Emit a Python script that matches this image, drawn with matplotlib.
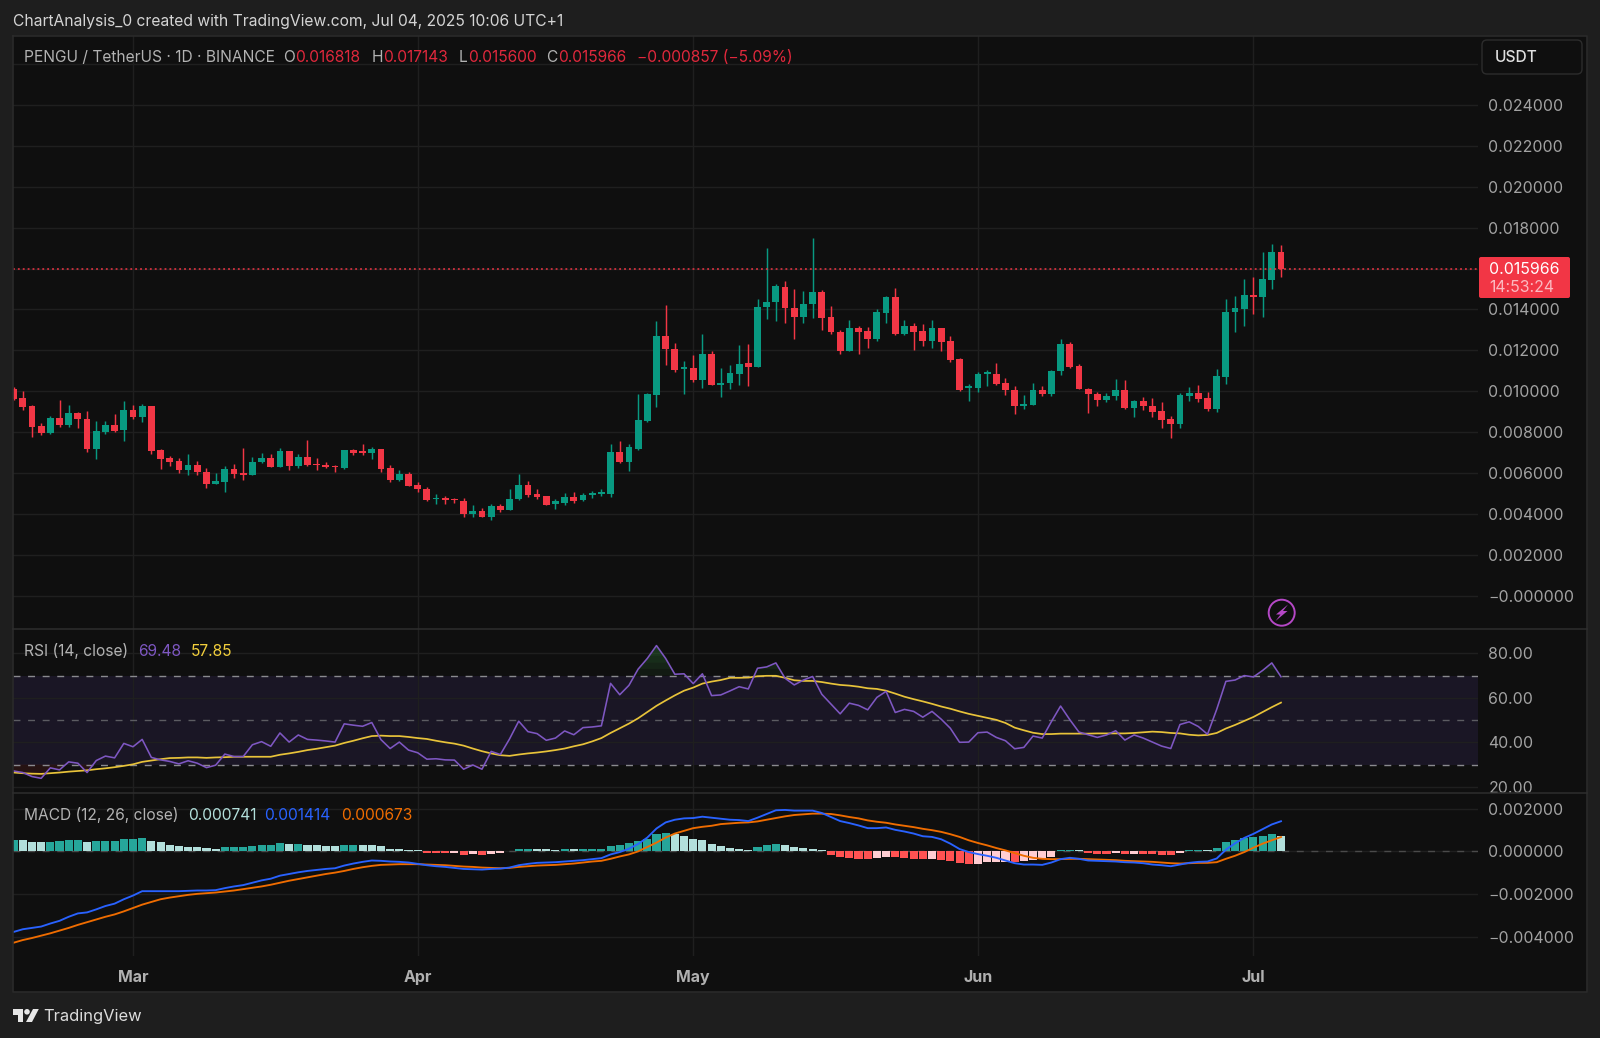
import numpy as np
import pandas as pd
import matplotlib
matplotlib.use("Agg")
import matplotlib.pyplot as plt
import matplotlib.dates as mdates
from matplotlib.patches import Circle, FancyBboxPatch, Polygon, Rectangle

plt.rcParams['font.family'] = ['Inter', 'DejaVu Sans']

# candles, in millionths of USDT
open_u = [10110,9690,9280,8290,7950,8700,8360,8940,8660,7200,8010,8340,8110,9090,8730,9270,7130,6760,6580,6170,
          6390,6080,5490,5590,6210,6010,5920,6530,6730,6320,7070,6350,6780,6450,6400,6370,6260,7130,7090,6990,
          7170,6270,5650,5960,5410,5250,4750,4790,4750,4660,4010,4160,3850,4420,4190,4730,5410,4990,4880,4490,
          4550,4840,4670,4960,4970,4970,7060,6570,7200,8550,9810,12720,12080,11110,11120,10550,11820,10330,10390,10860,
          11400,11210,14100,14350,15110,14090,13650,14250,14830,13610,12910,11990,13110,12950,12560,13830,14610,12800,13190,12950,
          12460,13080,12440,11600,10150,10150,10860,10860,10410,10080,9270,9330,10080,9870,10990,12330,11250,10130,9890,9560,
          9770,10050,9200,9550,9300,9030,8650,8420,9790,9940,9660,9140,10700,13870,14020,14720,14610,15450,16818]
high_u = [10230,10030,9330,8440,8780,9580,9330,8970,9020,8550,8530,8890,9510,9320,9400,9280,7180,6840,6730,6960,
          6600,6270,6000,6340,6440,7220,6810,6970,6920,7220,7090,6940,7620,6730,6570,6390,7140,7170,7430,7300,
          7170,6400,6160,6080,5590,5330,4970,4880,4800,4780,4440,4320,4520,4520,5250,5950,5640,5250,4910,4760,
          5040,5070,5010,5120,5230,7420,7550,7450,9860,9940,13420,14200,12340,11480,11770,12780,11970,11120,11290,12250,
          12330,14510,17010,15220,15370,14980,14900,17500,14960,14150,13010,13470,13210,13140,14040,14670,15060,13470,13350,13270,
          13500,13110,12720,11630,10340,10930,11030,11400,10640,10280,9810,10430,10250,11030,12540,12390,11350,10150,9950,9940,
          10600,10540,9560,9730,9690,9480,8810,9940,10210,10290,9990,11090,14530,14640,15500,15600,16820,17180,17143]
low_u = [9580,9090,7790,7870,7930,8270,8240,8210,7020,6710,7900,8010,7590,8670,8500,6960,6220,6350,6000,5910,
         5910,5280,5480,5080,5770,5690,5900,6520,6310,6310,6140,6260,6370,6160,6270,6060,6190,6890,6890,6710,
         6080,5590,5640,5380,5100,4650,4490,4490,4550,3870,3870,3840,3710,4100,4180,4710,4840,4730,4440,4240,
         4440,4550,4650,4800,4910,4840,6520,6100,7150,8490,9240,11270,10950,9890,10460,10160,10290,9730,10100,10310,
         10260,11190,13530,13420,13340,12540,13340,13600,12980,12780,11840,11970,11840,12120,12460,13320,12730,12770,12000,12230,
         12120,11970,11430,10020,9530,9990,10250,10290,9820,8880,9140,9320,9770,9770,10800,11160,10100,8940,9300,9480,
         9560,9140,8750,9110,8750,8230,7720,8230,9530,9480,9060,8990,10360,12900,13190,13790,13630,14980,15600]
close_u = [9610,9250,8240,7950,8680,8360,8940,8630,7200,8060,8340,8060,9090,8730,9270,7100,6710,6570,6170,6390,
           6050,5490,5610,6190,5980,5920,6550,6730,6320,7070,6350,6780,6390,6390,6310,6310,7130,7010,7010,7170,
           6220,5660,5960,5380,5220,4710,4810,4700,4680,4010,4160,3850,4420,4190,4760,5410,4930,4840,4450,4620,
           4840,4650,4960,5020,5060,7060,6550,7280,8620,9860,12720,12050,11060,11170,10540,11820,10330,10430,10910,11350,
           11190,14120,14380,15130,14070,13630,14280,14830,13580,12910,11970,13110,12910,12570,13870,14620,12780,13210,12910,12460,
           13080,12410,11530,10080,10250,10830,10950,10360,10050,9270,9380,10080,9890,11010,12330,11210,10120,9870,9560,9790,
           10050,9170,9530,9290,8990,8620,8420,9840,9940,9630,9140,10770,13890,14070,14720,14590,15490,16820,15966]

rsi = [27.1,26.4,24.6,23.8,28.5,27.6,31.2,30.6,26.4,31.8,33.8,33.0,39.5,38.0,41.3,33.2,32.1,31.4,30.3,31.7,
       30.6,28.6,29.7,34.7,33.6,33.6,38.9,40.3,38.2,44.2,40.1,43.3,41.3,41.0,40.6,40.1,48.3,47.7,47.2,48.9,
       41.2,37.2,40.1,36.5,35.3,32.4,32.6,32.1,32.0,27.9,29.8,27.9,35.9,34.5,41.5,49.5,44.8,43.9,40.9,41.9,
       45.1,43.4,46.6,46.9,47.4,66.5,61.4,65.6,72.9,77.7,83.5,77.7,70.6,70.8,66.4,70.8,61.0,61.3,63.1,65.0,
       64.0,73.3,73.9,75.7,68.8,65.8,68.0,69.6,61.6,57.2,52.8,57.6,56.6,54.6,60.2,62.9,53.4,54.8,53.9,51.3,
       53.9,50.4,46.3,40.0,40.1,44.3,44.6,42.2,40.7,37.1,37.7,42.8,41.9,49.3,56.3,50.2,44.6,43.4,42.2,43.3,
       45.2,41.0,43.3,41.9,40.1,38.3,37.2,48.0,49.2,47.1,43.6,54.8,67.4,68.0,70.0,69.4,72.3,75.7,69.48]
rsi_ma = [26.4,26.1,25.9,25.8,26.1,26.4,26.8,27.1,27.4,27.9,28.3,28.8,29.4,30.1,31.2,31.8,32.4,32.9,33.0,33.2,
          33.2,33.0,33.2,33.3,33.5,33.5,33.5,33.5,33.5,34.4,35.0,35.7,36.5,37.1,37.8,38.5,39.7,40.7,41.8,42.8,
          43.0,42.8,42.8,42.4,41.9,41.5,40.7,40.0,39.4,38.5,37.2,36.0,35.0,34.2,33.9,34.5,35.0,35.4,35.9,36.5,
          37.2,38.2,39.1,40.4,41.9,44.2,46.3,48.4,50.8,53.6,56.4,58.8,61.1,63.2,64.6,66.4,67.3,68.0,69.0,69.0,
          69.1,69.7,69.9,69.9,69.0,67.9,67.6,67.6,67.1,66.4,65.8,65.5,65.0,64.3,64.0,63.2,61.9,60.5,59.4,58.4,
          57.3,56.1,55.1,53.9,52.8,51.9,51.0,50.1,48.7,46.6,45.4,44.3,43.7,43.7,43.9,43.9,43.9,43.9,44.0,44.0,
          44.0,44.0,44.2,44.5,44.8,44.6,44.2,44.0,43.4,43.1,43.3,44.2,46.2,47.8,49.6,51.4,53.6,55.8,57.85]

# MACD values, millionths of USDT
macd_u = [-3776,-3650,-3587,-3524,-3381,-3255,-3065,-2907,-2860,-2718,-2560,-2449,-2244,-2070,-1865,-1865,-1865,-1865,-1865,-1849,
          -1833,-1833,-1817,-1722,-1643,-1580,-1470,-1359,-1280,-1138,-1059,-980,-916,-869,-822,-790,-664,-569,-490,-427,
          -442,-474,-490,-521,-585,-648,-695,-727,-774,-822,-837,-853,-822,-806,-758,-648,-585,-537,-521,-506,
          -474,-442,-411,-363,-316,-142,-32,126,348,648,1074,1359,1485,1548,1564,1627,1580,1532,1485,1469,
          1422,1580,1754,1928,1944,1912,1912,1912,1801,1612,1422,1327,1217,1090,1090,1122,1011,932,837,711,
          679,569,363,111,-32,-126,-205,-300,-427,-553,-616,-616,-632,-521,-363,-300,-348,-427,-442,-458,
          -474,-506,-521,-553,-616,-648,-695,-616,-537,-490,-474,-332,79,379,632,822,1043,1264,1414]
signal_u = [-4282,-4156,-4061,-3950,-3840,-3713,-3587,-3445,-3318,-3192,-3065,-2955,-2812,-2654,-2496,-2370,-2244,-2165,-2101,-2038,
            -1991,-1959,-1928,-1880,-1833,-1770,-1706,-1643,-1564,-1470,-1375,-1296,-1217,-1138,-1059,-995,-916,-822,-742,-679,
            -632,-616,-600,-600,-600,-616,-632,-648,-679,-711,-727,-758,-774,-790,-774,-727,-695,-664,-648,-632,
            -600,-569,-521,-474,-442,-348,-237,-142,0,205,411,648,837,964,1090,1153,1201,1280,1311,1343,
            1359,1406,1485,1564,1643,1706,1738,1770,1770,1754,1690,1612,1548,1453,1390,1343,1264,1201,1138,1059,
            995,916,806,679,521,395,284,158,47,-79,-205,-300,-348,-363,-363,-348,-348,-363,-379,-395,
            -411,-442,-458,-474,-490,-521,-553,-569,-553,-537,-537,-506,-348,-205,-32,174,363,521,673]
hist_u = [537,530,458,427,458,474,537,540,458,465,490,495,585,600,616,506,427,316,253,221,
          205,158,126,190,195,221,253,300,305,379,332,340,300,295,269,253,300,316,284,280,
          237,126,95,63,47,-63,-70,-95,-90,-150,-145,-158,-111,-79,32,95,111,95,90,88,
          111,95,111,112,115,269,300,379,506,585,822,869,806,711,569,521,332,237,158,126,
          79,221,284,332,284,190,142,111,47,-174,-284,-316,-363,-379,-332,-269,-284,-316,-363,-379,
          -348,-395,-458,-537,-600,-569,-506,-500,-490,-495,-458,-411,-332,-253,47,50,45,-95,-126,-128,
          -95,-126,-111,-126,-128,-158,-174,-95,47,63,47,158,427,553,632,679,743,822,741]

price_ticks = np.arange(0, 0.0261, 0.002)
last_price = 0.015966

BG = '#0f0f0f'
FRAME = '#1e1e1e'
GRID = '#1f1f1f'
UP = '#089981'
DOWN = '#f23645'
AXIS_TXT = '#a3a3a3'

W, H = 1600, 1038
scale = 1e-6
o, h, l, c = [np.array(a) * scale for a in (open_u, high_u, low_u, close_u)]
macd, signal, hist = [np.array(a) * scale for a in (macd_u, signal_u, hist_u)]
dates = pd.date_range('2025-02-16', periods=len(c))
x = mdates.date2num(dates)

fig = plt.figure(figsize=(W / 100, H / 100), dpi=100, facecolor=FRAME)

# dark chart area behind the panes, also behind the price scale and time axis
back = fig.add_axes([0, 0, 1, 1], facecolor='none', zorder=-1)
back.set_xlim(0, W)
back.set_ylim(H, 0)
back.axis('off')
back.add_patch(Rectangle((13, 36), 1574, 956, fc=BG, ec='none'))


def pane(top, bottom, ylim, ticks):
    # pixel box to axes box
    left, right = 13, 1478
    ax = fig.add_axes([left / W, 1 - bottom / H, (right - left) / W, (bottom - top) / H], facecolor=BG)
    ax.set_xlim(x[0] - 0.6 / 9.184, x[0] + (right - 13.6) / 9.184)
    ax.set_ylim(*ylim)
    ax.set_yticks(ticks)
    ax.yaxis.tick_right()
    ax.xaxis.set_major_locator(mdates.MonthLocator())
    ax.xaxis.set_major_formatter(mdates.DateFormatter('%b'))
    ax.grid(True, color=GRID, lw=1.0)
    ax.set_axisbelow(True)
    ax.tick_params(length=0, labelcolor=AXIS_TXT, labelsize=11.4, pad=7.5, labelbottom=False)
    for s in ax.spines.values():
        s.set_visible(False)
    return ax


# price pane
ax1 = pane(36, 629, (-0.00161, 0.02736), price_ticks)
ax1.set_yticklabels(['\u22120.000000'] + [f'{v:.6f}' for v in price_ticks[1:-1]] + [''])
colors = [UP if b >= a else DOWN for a, b in zip(o, c)]
ax1.vlines(x, l, h, colors=colors, lw=1.05, zorder=3)
ax1.bar(x, np.abs(c - o), bottom=np.minimum(o, c), width=0.74, color=colors, zorder=4)
ax1.axhline(last_price, color=DOWN, lw=1.1, ls=(0, (1.2, 2.0)), zorder=5)

# RSI pane
ax2 = pane(629, 793, (17.2, 90.95), [20, 40, 60, 80])
ax2.set_yticklabels(['20.00', '40.00', '60.00', '80.00'])
ax2.axhspan(30, 70, color='#1a1625', lw=0, zorder=0.5)
for lev in (70, 73, 76, 79, 82):
    ax2.fill_between(x, rsi, lev, where=np.array(rsi) > lev, interpolate=True, color='#2c6b34', alpha=0.13, lw=0, zorder=1)
ax2.fill_between(x, rsi, 30, where=np.array(rsi) < 30, interpolate=True, color='#4a1a1a', alpha=0.4, lw=0, zorder=1)
for lev, col in ((70, '#8a8a8f'), (50, '#5c5c62'), (30, '#8a8a8f')):
    ax2.axhline(lev, color=col, lw=1.0, ls=(0, (5, 5.5)), zorder=1.5)
ax2.plot(x, rsi_ma, color='#e8c33a', lw=1.25, zorder=3)
ax2.plot(x, rsi, color='#7e57c2', lw=1.15, zorder=4)

# MACD pane
ax3 = pane(793, 956, (-0.004904, 0.002738), [-0.004, -0.002, 0, 0.002])
ax3.set_yticklabels(['\u22120.004000', '\u22120.002000', '0.000000', '0.002000'])
hist_cols = []
for i, v in enumerate(hist):
    prev = hist[i - 1] if i else v
    if v >= 0:
        hist_cols.append('#26a69a' if v >= prev else '#b2dfdb')
    else:
        hist_cols.append('#ff5252' if v <= prev else '#ffcdd2')
ax3.axhline(0, color='#4a4a4a', lw=1.0, ls=(0, (5, 5.5)), zorder=1)
ax3.bar(x, hist, width=0.88, color=hist_cols, zorder=2)
ax3.plot(x, signal, color='#ef6c00', lw=1.35, zorder=3)
ax3.plot(x, macd, color='#2962ff', lw=1.35, zorder=4)

ax3.tick_params(axis='x', labelbottom=True, pad=9.8, labelsize=11.5, labelcolor='#b0b0b0')
for t in ax3.get_xticklabels():
    t.set_fontweight('bold')

# overlay in pixel coordinates
fg = fig.add_axes([0, 0, 1, 1], facecolor='none', zorder=10)
fg.set_xlim(0, W)
fg.set_ylim(H, 0)
fg.axis('off')


def label(px, py, s, color, size=11.2, **kw):
    fg.text(px, py, s, color=color, fontsize=size, va='center', ha=kw.pop('ha', 'left'), **kw)


# frame and pane borders
fg.plot([13, 1587, 1587, 13, 13], [35.5, 35.5, 992, 992, 35.5], color='#2a2a2a', lw=1.2)
fg.plot([13, 1587], [629, 629], color='#2e2e2e', lw=1.1)
fg.plot([13, 1587], [793, 793], color='#2e2e2e', lw=1.1)

label(13, 21.2, 'ChartAnalysis_0 created with TradingView.com, Jul 04, 2025 10:06 UTC+1', '#d4d4d4', size=11.25)

hdr_red = '#e0283c'
hdr_grey = '#b2b2b2'
label(24, 57, 'PENGU / TetherUS \u00b7 1D \u00b7 BINANCE', hdr_grey)
for px, s, col in ((283, 'O', hdr_grey), (295.5, '0.016818', hdr_red), (372, 'H', hdr_grey), (383.5, '0.017143', hdr_red),
                   (459, 'L', hdr_grey), (468, '0.015600', hdr_red), (546.5, 'C', hdr_grey), (558, '0.015966', hdr_red),
                   (637, '\u22120.000857 (\u22125.09%)', hdr_red)):
    label(px, 57, s, col)

label(24, 651, 'RSI (14, close)', hdr_grey)
label(138.5, 651, '69.48', '#7e57c2')
label(190.5, 651, '57.85', '#f2cf3c')
label(24, 815, 'MACD (12, 26, close)', hdr_grey)
label(188, 815, '0.000741', '#b2dfdb')
label(264.5, 815, '0.001414', '#2962ff')
label(341, 815, '0.000673', '#ef6c00')

# currency button
fg.add_patch(FancyBboxPatch((1485, 43), 94, 28, boxstyle='round,pad=3,rounding_size=5', fc=BG, ec='#2c2c2c', lw=1))
label(1494.5, 57.5, 'USDT', '#e0e0e0', size=11.2, fontweight='medium')

# last price tag
fg.add_patch(FancyBboxPatch((1480, 258), 89, 39, boxstyle='round,pad=1,rounding_size=2', fc=DOWN, ec='none'))
label(1489, 269.2, f'{last_price:.6f}', '#ffffff', size=11.4)
label(1489.5, 287.5, '14:53:24', '#fbb9c0', size=11.4)

# lightning badge
fg.add_patch(Circle((1281.7, 612.7), 13, fc='none', ec='#b548c6', lw=1.4))
fg.add_patch(Polygon([[1288, 604.5], [1276, 614.5], [1280.5, 614.5], [1275.5, 621], [1287.5, 611], [1283, 611]],
                     fc='#b548c6', ec='none'))

# TradingView mark
logo = '#e6e6e6'
fg.add_patch(Polygon([[13, 1009], [23, 1009], [23, 1022], [17.5, 1022], [17.5, 1014.5], [13, 1014.5]], fc=logo, ec='none'))
fg.add_patch(Circle((27, 1011.8), 2.8, fc=logo, ec='none'))
fg.add_patch(Polygon([[33, 1009], [38.8, 1009], [32, 1022], [26, 1022]], fc=logo, ec='none'))
label(43.5, 1016.5, 'TradingView', '#dcdcdc', size=11.9)

fig.savefig('out.png', dpi=100, facecolor=FRAME)
